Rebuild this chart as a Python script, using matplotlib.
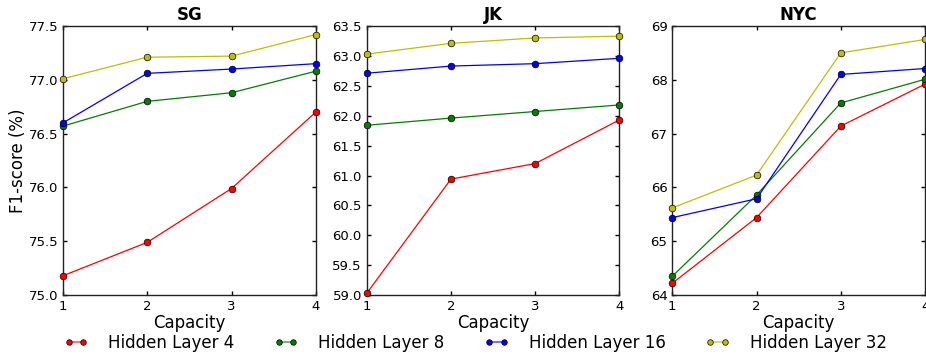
import matplotlib
matplotlib.use("Agg")
import matplotlib.pyplot as plt
from matplotlib.lines import Line2D
from matplotlib.colors import to_rgb

capacity = [1, 2, 3, 4]
series_labels = ["Hidden Layer 4", "Hidden Layer 8", "Hidden Layer 16", "Hidden Layer 32"]
series_colors = ["#ff0000", "#008000", "#0000ff", "#bfbf00"]

sg_values = [
    [75.18, 75.49, 75.99, 76.70],
    [76.57, 76.80, 76.88, 77.08],
    [76.60, 77.06, 77.10, 77.15],
    [77.01, 77.21, 77.22, 77.42],
]
jk_values = [
    [59.03, 60.94, 61.20, 61.93],
    [61.84, 61.96, 62.07, 62.18],
    [62.71, 62.83, 62.87, 62.96],
    [63.03, 63.21, 63.30, 63.33],
]
nyc_values = [
    [64.22, 65.44, 67.14, 67.92],
    [64.35, 65.86, 67.57, 68.01],
    [65.44, 65.79, 68.10, 68.21],
    [65.62, 66.23, 68.50, 68.75],
]

panels = [
    ("SG", sg_values, (75.0, 77.5), [75.0, 75.5, 76.0, 76.5, 77.0, 77.5], "{:.1f}"),
    ("JK", jk_values, (59.0, 63.5), [59.0, 59.5, 60.0, 60.5, 61.0, 61.5, 62.0, 62.5, 63.0, 63.5], "{:.1f}"),
    ("NYC", nyc_values, (64, 69), [64, 65, 66, 67, 68, 69], "{:d}"),
]

plt.rcParams["font.family"] = ["DejaVu Sans"]

fig = plt.figure(figsize=(9.26, 3.56), dpi=100)
lefts = [0.068, 0.396, 0.726]
width = 0.273
bottom, top = 0.171, 0.927

for i, (title, values, ylim, yticks, fmt) in enumerate(panels):
    ax = fig.add_axes([lefts[i], bottom, width, top - bottom])
    for vals, lab, col in zip(values, series_labels, series_colors):
        ax.plot(capacity, vals, color=col, lw=0.9, marker="o", ms=4.8,
                mec="black", mew=0.5, mfc=col, label=lab, clip_on=False, zorder=3)
    ax.set_xlim(1, 4)
    ax.set_ylim(*ylim)
    ax.set_xticks(capacity)
    ax.set_yticks(yticks)
    ax.set_yticklabels([fmt.format(v) for v in yticks])
    ax.tick_params(direction="in", top=True, right=True, length=3, width=1,
                   labelsize=9.5, pad=3.5, colors="black")
    for s in ax.spines.values():
        s.set_linewidth(1.0)
        s.set_color("#222222")
    ax.set_title(title, fontsize=12, fontweight="bold", pad=4)
    ax.set_xlabel("Capacity", fontsize=12, labelpad=1)
    if i == 0:
        ax.set_ylabel("F1-score (%)", fontsize=12, labelpad=1)


def lighten(c, amount=0.45):
    r, g, b = to_rgb(c)
    return (r + (1 - r) * amount, g + (1 - g) * amount, b + (1 - b) * amount)


handles = [Line2D([0], [0], color=lighten(c), lw=1.5, marker="o", ms=4,
                  mec="black", mew=0.5, mfc=c) for c in series_colors]
fig.legend(handles=handles, labels=series_labels, loc="center", ncol=4,
           frameon=False, fontsize=12, bbox_to_anchor=(0.513, 0.036),
           numpoints=2, handlelength=1.45, handletextpad=1.2, columnspacing=2.4)

fig.savefig("out.png", dpi=100)
